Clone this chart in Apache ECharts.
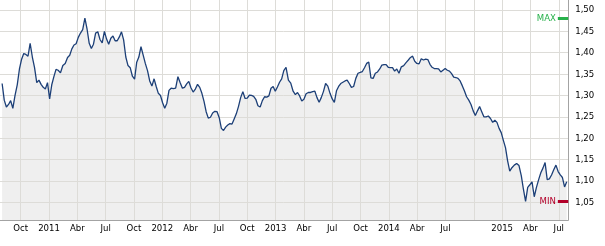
<!DOCTYPE html>
<html><head><meta charset="utf-8">
<script src="https://cdn.jsdelivr.net/npm/echarts@6/dist/echarts.min.js"></script>
<style>html,body{margin:0;padding:0;background:#fff}#c{width:605px;height:246px}</style>
</head><body><div id="c"></div>
<script>
// Weekly closing rate (first week: 2010-08-02)
const startDate = [2010, 8, 2];
const weeklyRates = [
1.328,1.289,1.273,1.279,1.288,1.270,1.300,1.325,1.362,1.385,
1.398,1.396,1.392,1.422,1.390,1.365,1.330,1.336,1.326,1.319,
1.315,1.330,1.292,1.325,1.344,1.361,1.359,1.353,1.370,1.375,
1.389,1.394,1.409,1.418,1.421,1.436,1.446,1.454,1.481,1.455,
1.422,1.410,1.420,1.446,1.449,1.431,1.423,1.450,1.432,1.420,
1.434,1.439,1.428,1.428,1.437,1.449,1.430,1.390,1.370,1.365,
1.345,1.338,1.378,1.390,1.414,1.395,1.375,1.358,1.334,1.322,
1.339,1.321,1.305,1.300,1.283,1.270,1.282,1.312,1.317,1.316,
1.317,1.344,1.330,1.317,1.319,1.327,1.333,1.318,1.308,1.315,
1.326,1.319,1.305,1.286,1.262,1.247,1.249,1.259,1.263,1.262,
1.248,1.223,1.218,1.226,1.231,1.234,1.233,1.245,1.257,1.274,
1.295,1.309,1.293,1.294,1.301,1.300,1.298,1.291,1.276,1.273,
1.288,1.297,1.296,1.299,1.317,1.321,1.310,1.320,1.331,1.339,
1.358,1.366,1.336,1.329,1.310,1.302,1.307,1.299,1.287,1.291,
1.304,1.307,1.307,1.309,1.310,1.295,1.284,1.295,1.309,1.328,
1.322,1.305,1.292,1.284,1.311,1.321,1.328,1.331,1.334,1.336,
1.328,1.319,1.321,1.340,1.352,1.354,1.356,1.365,1.375,1.378,
1.341,1.340,1.352,1.355,1.362,1.371,1.372,1.372,1.366,1.365,
1.365,1.357,1.362,1.352,1.367,1.370,1.377,1.383,1.389,1.392,
1.380,1.375,1.374,1.386,1.383,1.385,1.384,1.373,1.366,1.363,
1.363,1.362,1.355,1.359,1.363,1.359,1.357,1.351,1.343,1.342,
1.340,1.334,1.323,1.311,1.297,1.289,1.279,1.264,1.253,1.264,
1.274,1.262,1.250,1.250,1.252,1.246,1.237,1.242,1.237,1.223,
1.213,1.195,1.178,1.147,1.123,1.131,1.137,1.141,1.136,1.112,
1.080,1.052,1.085,1.091,1.098,1.063,1.085,1.103,1.119,1.130,
1.143,1.103,1.105,1.114,1.126,1.137,1.122,1.114,1.108,1.086,
1.098
];
const quarterNames = ['', 'Abr', 'Jul', 'Oct'];
const hiddenQuarterLabels = ['2010-Jul', '2014-Oct'];
const yTickLabelsRange = [1.05, 1.50, 0.05];
const maxLabel = 'MAX', minLabel = 'MIN';

function monthPos(d) {
  const y = d.getUTCFullYear(), m = d.getUTCMonth();
  const dim = new Date(Date.UTC(y, m + 1, 0)).getUTCDate();
  return (y - 2010) * 12 + m + (d.getUTCDate() - 1) / dim;
}
const t0 = Date.UTC(startDate[0], startDate[1] - 1, startDate[2]);
const seriesData = weeklyRates.map((v, i) => [monthPos(new Date(t0 + i * 7 * 86400000)), v]);
const maxV = Math.max(...weeklyRates), minV = Math.min(...weeklyRates);

const FONT = '"DejaVu Sans Condensed", "DejaVu Sans", sans-serif';
const gridColor = '#dddcd8';
const gridLeft = -7.62, gridRight = 36.78;

const chart = echarts.init(document.getElementById('c'), null, {renderer: 'canvas'});
chart.setOption({
  animation: false,
  backgroundColor: '#ffffff',
  grid: [
    {left: gridLeft, right: gridRight, top: 0, bottom: 26, containLabel: false, outerBoundsMode: 'none'},
    {left: gridLeft, right: gridRight, top: 10, bottom: 43.7, containLabel: false, outerBoundsMode: 'none'}
  ],
  xAxis: [
    {type: 'value', gridIndex: 0, min: 6, max: 67, interval: 3, z: 2,
     axisLine: {show: true, onZero: false, lineStyle: {color: '#a3a3a3', width: 1}},
     axisTick: {show: false},
     splitLine: {show: true, lineStyle: {color: gridColor, width: 1}},
     axisLabel: {fontFamily: FONT, fontSize: 9.5, color: '#000', margin: 4, showMinLabel: true, showMaxLabel: true,
       hideOverlap: false,
       formatter: function (v) {
         const r = Math.round(v);
         if (Math.abs(v - r) > 1e-6 || r % 3 !== 0) return '';
         const y = 2010 + Math.floor(r / 12), q = (r % 12) / 3;
         const txt = q === 0 ? String(y) : quarterNames[q];
         if (hiddenQuarterLabels.indexOf(y + '-' + txt) >= 0) return '';
         return txt;
       }}},
    {type: 'value', gridIndex: 1, min: 6, max: 67, show: false}
  ],
  yAxis: [
    {type: 'value', gridIndex: 0, position: 'right', min: 1.0086, max: 1.5234, z: 2,
     axisLine: {show: true, lineStyle: {color: '#a3a3a3', width: 1}},
     axisTick: {show: false}, axisLabel: {show: false}, splitLine: {show: false}},
    {type: 'value', gridIndex: 1, position: 'right', min: yTickLabelsRange[0], max: yTickLabelsRange[1], interval: yTickLabelsRange[2], z: 2,
     axisLine: {show: false}, axisTick: {show: false},
     splitLine: {show: true, lineStyle: {color: gridColor, width: 1}},
     axisLabel: {fontFamily: FONT, fontSize: 9.5, color: '#000', margin: 7,
       formatter: v => v.toFixed(2).replace('.', ',')}}
  ],
  series: [
    {type: 'line', xAxisIndex: 0, yAxisIndex: 0, data: seriesData, z: 1, symbol: 'none', silent: true,
     lineStyle: {width: 0, opacity: 0}, areaStyle: {color: '#efefef', opacity: 1}},
    {type: 'line', xAxisIndex: 0, yAxisIndex: 0, data: seriesData, z: 3, symbol: 'none',
     lineStyle: {color: '#1c3f77', width: 1.3},
     markLine: {
       symbol: 'none', silent: true, animation: false,
       lineStyle: {type: 'solid', width: 3},
       data: [
         [{coord: [65.9, maxV], lineStyle: {color: '#27b14a'},
           label: {show: true, position: 'start', formatter: maxLabel, color: '#27b14a', fontFamily: FONT, fontSize: 9.5, distance: 2}},
          {coord: [67, maxV]}],
         [{coord: [65.9, minV], lineStyle: {color: '#b3002a'},
           label: {show: true, position: 'start', formatter: minLabel, color: '#b3002a', fontFamily: FONT, fontSize: 9.5, distance: 2}},
          {coord: [67, minV]}]
       ]
     }}
  ]
});
</script>
</body></html>
